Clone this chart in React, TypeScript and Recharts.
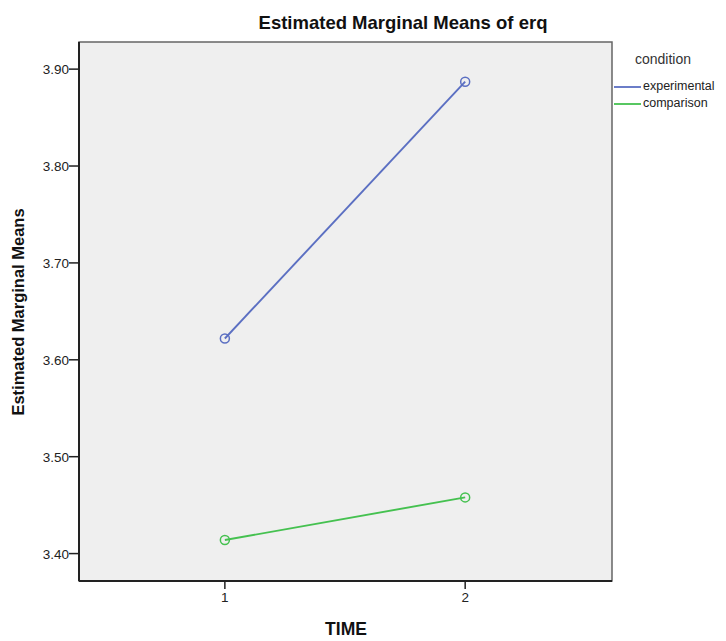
import { LineChart, Line, XAxis, YAxis, ReferenceArea } from "recharts";

// Estimated marginal means of erq by TIME and condition (SPSS profile plot)
const times = [1, 2];
const experimental = [3.622, 3.887];
const comparison = [3.414, 3.458];
const yTicks = [3.4, 3.5, 3.6, 3.7, 3.8, 3.9];

const X_DOMAIN: [number, number] = [0.393, 2.611];
const Y_DOMAIN: [number, number] = [3.3717, 3.928];

const BLUE = "#5b6fc2";
const GREEN = "#45c150";
const FONT = "'Liberation Sans', Arial, sans-serif";

const data = times.map((t, i) => ({ t, experimental: experimental[i], comparison: comparison[i] }));

function Ring(props: any) {
  const { cx, cy, stroke } = props;
  if (cx == null || cy == null) return null;
  return <circle cx={cx} cy={cy} r={4.5} fill="none" stroke={stroke} strokeWidth={1.5} />;
}

function XTick(props: any) {
  const { x, y, payload } = props;
  return (
    <text x={x} y={y + 13} textAnchor="middle" fontSize={13.5} fontFamily={FONT} fill="#222">
      {payload.value}
    </text>
  );
}

function YTick(props: any) {
  const { x, y, payload } = props;
  return (
    <text x={x} y={y + 5} textAnchor="end" fontSize={13.5} fontFamily={FONT} fill="#222">
      {Number(payload.value).toFixed(2)}
    </text>
  );
}

export default function App() {
  return (
    <div style={{ position: "absolute", left: 0, top: 0, width: 726, height: 641, background: "#fff", fontFamily: FONT }}>
      <LineChart width={726} height={641} data={data} margin={{ top: 42, right: 114, bottom: 30, left: 0 }}>
        <XAxis
          dataKey="t" type="number" domain={X_DOMAIN} ticks={times} allowDataOverflow height={30}
          tick={<XTick />} tickSize={8} tickMargin={0} axisLine={{ stroke: "#222", strokeWidth: 2 }} tickLine={{ stroke: "#222", strokeWidth: 1.5 }}
        />
        <YAxis
          type="number" domain={Y_DOMAIN} ticks={yTicks} allowDataOverflow width={79}
          tick={<YTick />} tickSize={10} tickMargin={0} axisLine={{ stroke: "#222", strokeWidth: 2 }} tickLine={{ stroke: "#222", strokeWidth: 1.5 }}
        />
        <ReferenceArea x1={X_DOMAIN[0]} x2={X_DOMAIN[1]} y1={Y_DOMAIN[0]} y2={Y_DOMAIN[1]} fill="#efefef" fillOpacity={1} stroke="#666" strokeWidth={1.5} ifOverflow="visible" />
        <Line dataKey="experimental" stroke={BLUE} strokeWidth={1.9} dot={<Ring />} activeDot={false} isAnimationActive={false} />
        <Line dataKey="comparison" stroke={GREEN} strokeWidth={1.9} dot={<Ring />} activeDot={false} isAnimationActive={false} />
      </LineChart>

      <div style={{ position: "absolute", left: 403, top: 12, transform: "translateX(-50%)", fontSize: 18.5, fontWeight: "bold", color: "#111", whiteSpace: "nowrap" }}>
        Estimated Marginal Means of erq
      </div>
      <div style={{ position: "absolute", left: 18, top: 312, transform: "translate(-50%,-50%) rotate(-90deg)", fontSize: 16.5, fontWeight: "bold", color: "#111", whiteSpace: "nowrap" }}>
        Estimated Marginal Means
      </div>
      <div style={{ position: "absolute", left: 346, top: 619, transform: "translateX(-50%)", fontSize: 17.5, fontWeight: "bold", color: "#111" }}>
        TIME
      </div>

      <div style={{ position: "absolute", left: 635, top: 51, fontSize: 14, color: "#333" }}>condition</div>
      <svg style={{ position: "absolute", left: 612, top: 78 }} width={30} height={34}>
        <line x1={2} x2={29} y1={9} y2={9} stroke={BLUE} strokeWidth={1.8} />
        <line x1={2} x2={29} y1={26} y2={26} stroke={GREEN} strokeWidth={1.8} />
      </svg>
      <div style={{ position: "absolute", left: 643, top: 79, fontSize: 12.5, color: "#222" }}>experimental</div>
      <div style={{ position: "absolute", left: 643, top: 96, fontSize: 12.5, color: "#222" }}>comparison</div>
    </div>
  );
}
